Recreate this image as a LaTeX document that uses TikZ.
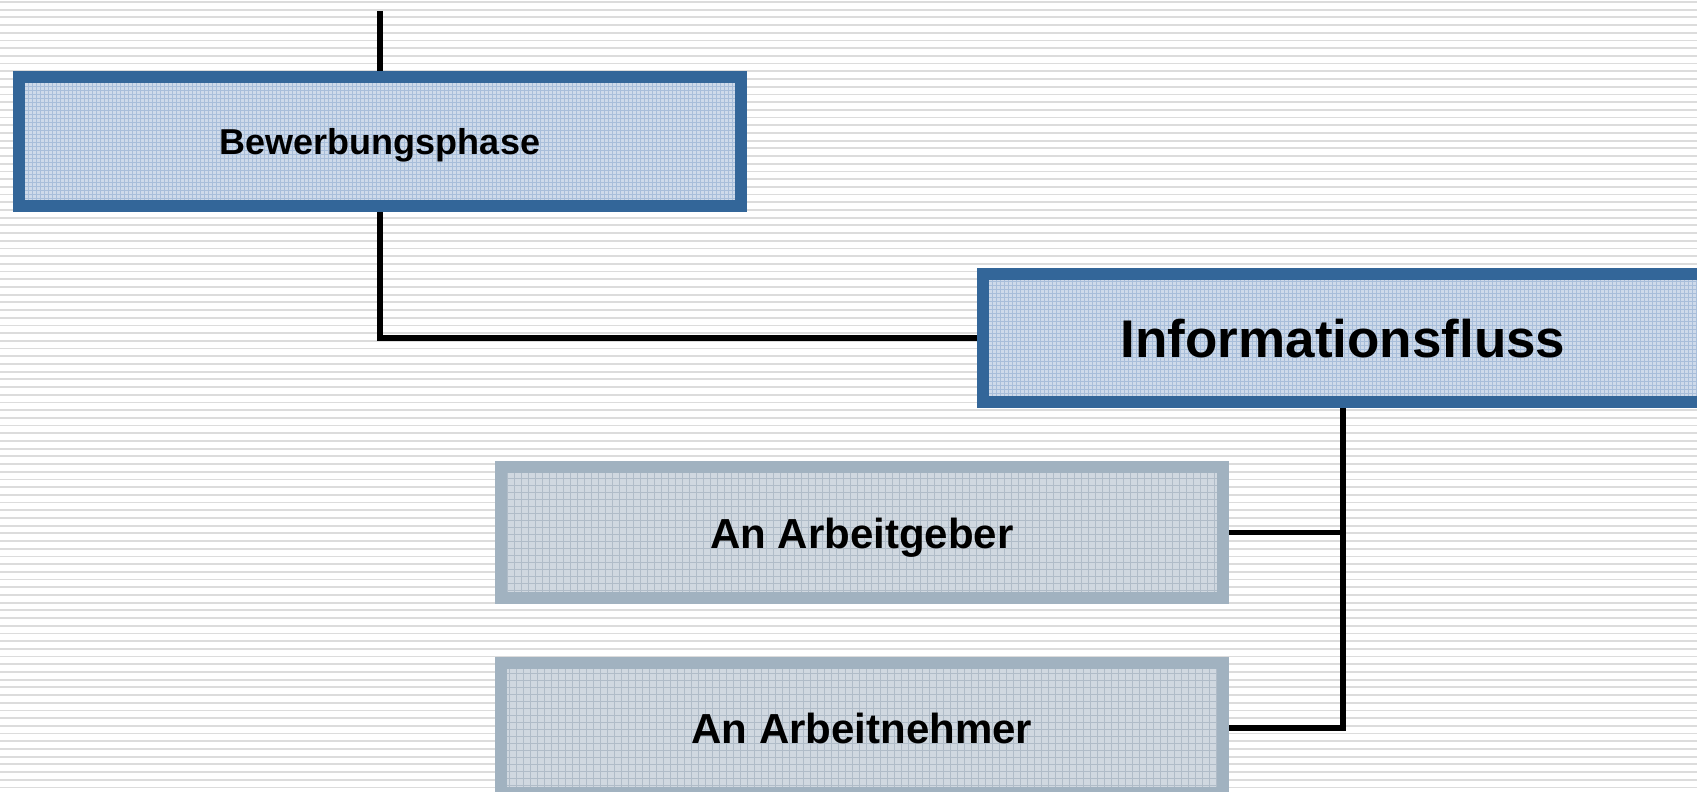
\documentclass[tikz,border=0pt]{standalone}
\usepackage{fontspec}
\setmainfont{Liberation Sans}
\definecolor{bluebord}{RGB}{51,102,153}
\definecolor{bluefill}{RGB}{206,218,234}
\definecolor{bluegrid}{RGB}{168,190,218}
\definecolor{graybord}{RGB}{161,178,192}
\definecolor{grayfill}{RGB}{208,216,224}
\definecolor{graygrid}{RGB}{176,188,200}
\definecolor{bgline}{RGB}{220,220,220}
\tikzset{
  bluebox/.style={draw=bluebord, fill=bluefill, line width=12pt, rectangle, inner sep=0pt,
    minimum width=722pt, font=\bfseries,
    path picture={\draw[bluegrid, line width=0.6pt, step=4pt]
      (path picture bounding box.south west) grid (path picture bounding box.north east);}},
  graybox/.style={draw=graybord, fill=grayfill, line width=12pt, rectangle, inner sep=0pt,
    minimum width=722pt, font=\bfseries\fontsize{42}{46}\selectfont, text height=32pt, text depth=0pt,
    path picture={\draw[graygrid, line width=0.6pt, step=7pt]
      (path picture bounding box.south west) grid (path picture bounding box.north east);}},
  conn/.style={draw=black, line width=5.5pt}
}
\begin{document}
\begin{tikzpicture}[x=1pt,y=-1pt]
\useasboundingbox (0,0) rectangle (1697,792);
\clip (0,0) rectangle (1697,792);
\fill[white] (0,0) rectangle (1697,792);
\foreach \i in {0,...,103} {
  \draw[bgline, line width=1.8pt] (0,{2+7.7*\i}) -- (1697,{2+7.7*\i});
}
\node[bluebox, minimum height=129pt, font=\bfseries\fontsize{36}{40}\selectfont, text height=25pt, text depth=0pt]
  (bew) at (380,141.5) {Bewerbungsphase};
\node[bluebox, minimum width=720pt, minimum height=128pt, font=\bfseries\fontsize{53}{58}\selectfont, text height=38pt, text depth=0pt]
  (inf) at (1343,338) {Informationsfluss};
\node[graybox, minimum height=131pt] (ag) at (862,532.5) {An Arbeitgeber};
\node[graybox, minimum height=130pt, text height=31pt] (an) at (862,728) {An Arbeitnehmer};
\coordinate (top) at (380,11);
\draw[conn] (top) -- (bew.north);
\draw[conn] (bew.south) |- (inf.west);
\draw[conn] (inf.south) |- (an.east);
\draw[conn] (ag.east) -- (ag.east -| inf.south);
\end{tikzpicture}
\end{document}
